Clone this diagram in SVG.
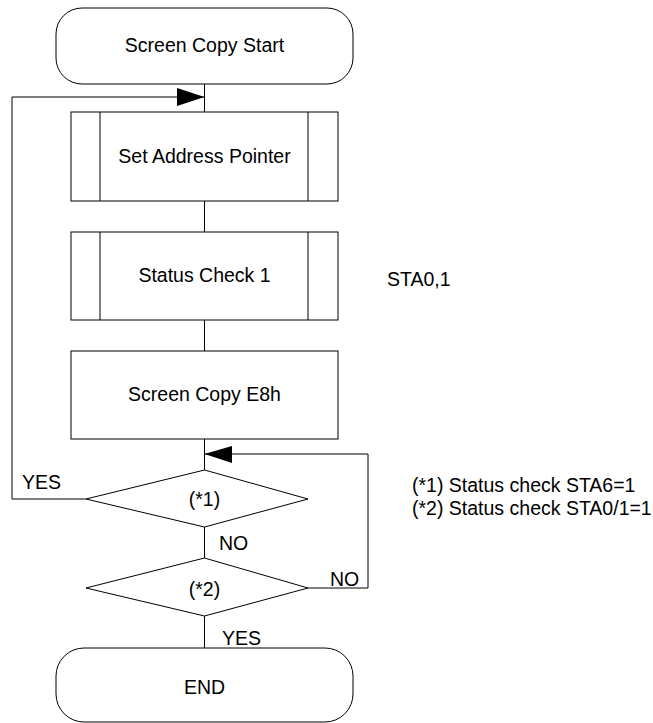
<svg xmlns="http://www.w3.org/2000/svg" width="653" height="723" viewBox="0 0 653 723">
<style>
.s{fill:#fff;stroke:#000;stroke-width:1}
.l{fill:none;stroke:#000;stroke-width:1}
text{font-family:"Liberation Sans",Arial,sans-serif;font-size:19.5px;fill:#000}
.c{text-anchor:middle}
</style>
<rect width="653" height="723" fill="#fff"/>
<g id="connectors">
<line class="l" x1="204.5" y1="84" x2="204.5" y2="112"/>
<line class="l" x1="204.5" y1="201" x2="204.5" y2="232"/>
<line class="l" x1="204.5" y1="320" x2="204.5" y2="351"/>
<line class="l" x1="204.5" y1="439" x2="204.5" y2="470"/>
<line class="l" x1="204.5" y1="527" x2="204.5" y2="558"/>
<line class="l" x1="204.5" y1="616" x2="204.5" y2="648"/>
<polyline class="l" points="86,499 12,499 12,97 204.5,97"/>
<polygon points="204.5,97 177,88 177,106" fill="#000"/>
<polyline class="l" points="308,588 368,588 368,454 204.5,454"/>
<polygon points="204.5,454 232,446 232,463" fill="#000"/>
<text x="22" y="489">YES</text>
<text x="219" y="550">NO</text>
<text x="330" y="586">NO</text>
<text x="222" y="645">YES</text>
</g>
<g id="start">
<rect class="s" x="56" y="8" width="297" height="76" rx="26"/>
<text class="c" x="204.5" y="52">Screen Copy Start</text>
</g>
<g id="setAddress">
<rect class="s" x="71" y="112" width="267" height="89"/>
<line class="l" x1="100" y1="112" x2="100" y2="201"/>
<line class="l" x1="308" y1="112" x2="308" y2="201"/>
<text class="c" x="204.5" y="163">Set Address Pointer</text>
</g>
<g id="statusCheck">
<rect class="s" x="71" y="232" width="267" height="88"/>
<line class="l" x1="100" y1="232" x2="100" y2="320"/>
<line class="l" x1="308" y1="232" x2="308" y2="320"/>
<text class="c" x="204.5" y="282">Status Check 1</text>
</g>
<g id="sta01">
<text x="387" y="286">STA0,1</text>
</g>
<g id="screenCopy">
<rect class="s" x="71" y="351" width="267" height="88"/>
<text class="c" x="204.5" y="401">Screen Copy E8h</text>
</g>
<g id="decision1">
<polygon class="s" points="204.5,470 308,499 204.5,527 86,499"/>
<text class="c" x="204.5" y="506">(*1)</text>
</g>
<g id="decision2">
<polygon class="s" points="204.5,558 308,588 204.5,616 86,588"/>
<text class="c" x="204.5" y="596">(*2)</text>
</g>
<g id="notes">
<text x="412" y="492">(*1) Status check STA6=1</text>
<text x="412" y="515">(*2) Status check STA0/1=1</text>
</g>
<g id="end">
<rect class="s" x="56" y="648" width="297" height="74" rx="28"/>
<text class="c" x="204.5" y="694">END</text>
</g>
</svg>
